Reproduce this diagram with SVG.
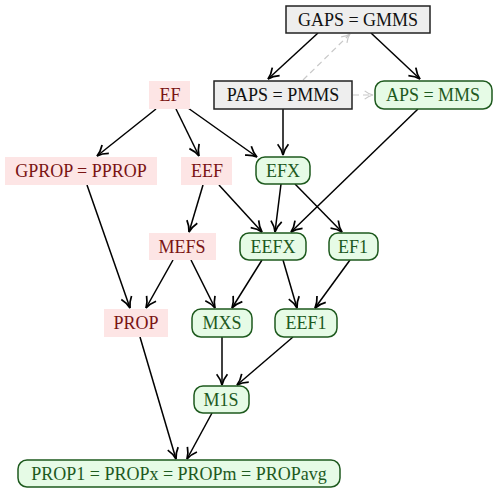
<svg xmlns="http://www.w3.org/2000/svg" width="498" height="494" viewBox="0 0 498 494">
<defs>
<marker id="ah" viewBox="0 0 12 12" refX="11" refY="6" markerWidth="13" markerHeight="13" markerUnits="userSpaceOnUse" orient="auto">
<path d="M1,1 Q6,5 11,6 Q6,7 1,11" fill="none" stroke="#000" stroke-width="1.6"/>
</marker>
<marker id="ahg" viewBox="0 0 12 12" refX="11" refY="6" markerWidth="10" markerHeight="10" markerUnits="userSpaceOnUse" orient="auto">
<path d="M1,1 Q6,5 11,6 Q6,7 1,11" fill="none" stroke="#c8c8c8" stroke-width="1.4"/>
</marker>
</defs>
<style>
text{font-size:18px;text-anchor:middle;dominant-baseline:central}
.gray rect{fill:#eeeeee;stroke:#222;stroke-width:1.5}
.gray text{fill:#111}
.pink rect{fill:#fde5e5;stroke:none}
.pink text{fill:#7a1414}
.green rect{fill:#e6fbe6;stroke:#1e5a1e;stroke-width:1.5}
.green text{fill:#1e5a1e}
.e{stroke:#000;stroke-width:1.5;fill:none;marker-end:url(#ah)}
.d{stroke:#c8c8c8;stroke-width:1.2;fill:none;stroke-dasharray:6,4;marker-end:url(#ahg)}
</style>
<g id="connectors">
<line class="d" x1="303" y1="80" x2="350" y2="34"/>
<line class="d" x1="353" y1="95" x2="373" y2="95"/>
<line class="e" x1="318" y1="33" x2="268" y2="79"/>
<line class="e" x1="371" y1="33" x2="420" y2="79"/>
<line class="e" x1="283" y1="109" x2="283" y2="155"/>
<line class="e" x1="418" y1="109" x2="291" y2="232"/>
<line class="e" x1="156" y1="109" x2="97" y2="156"/>
<line class="e" x1="176" y1="109" x2="199" y2="156"/>
<line class="e" x1="188" y1="108" x2="257" y2="157"/>
<line class="e" x1="87" y1="185" x2="130" y2="308"/>
<line class="e" x1="203" y1="185" x2="189" y2="232"/>
<line class="e" x1="219" y1="185" x2="262" y2="232"/>
<line class="e" x1="281" y1="184" x2="275" y2="232"/>
<line class="e" x1="295" y1="184" x2="342" y2="232"/>
<line class="e" x1="173" y1="260" x2="146" y2="308"/>
<line class="e" x1="191" y1="260" x2="215" y2="308"/>
<line class="e" x1="262" y1="260" x2="232" y2="308"/>
<line class="e" x1="283" y1="260" x2="297" y2="308"/>
<line class="e" x1="350" y1="260" x2="315" y2="308"/>
<line class="e" x1="140" y1="337" x2="176" y2="459"/>
<line class="e" x1="222" y1="337" x2="222" y2="385"/>
<line class="e" x1="293" y1="337" x2="237" y2="385"/>
<line class="e" x1="212" y1="413" x2="187" y2="459"/>
</g>
<g font-family="Liberation Serif, serif">
<g id="GAPS" class="gray"><rect x="286" y="6" width="144" height="27"/><text x="358" y="20">GAPS = GMMS</text></g>
<g id="PAPS" class="gray"><rect x="214" y="81" width="138" height="28"/><text x="283" y="95">PAPS = PMMS</text></g>
<g id="APS" class="green"><rect x="375" y="81" width="117" height="28" rx="9"/><text x="433" y="95">APS = MMS</text></g>
<g id="EF" class="pink"><rect x="149" y="81" width="41" height="28"/><text x="170" y="95">EF</text></g>
<g id="GPROP" class="pink"><rect x="5" y="157" width="152" height="28"/><text x="81" y="171">GPROP = PPROP</text></g>
<g id="EEF" class="pink"><rect x="181" y="157" width="51" height="28"/><text x="207" y="171">EEF</text></g>
<g id="EFX" class="green"><rect x="256" y="157" width="54" height="27" rx="9"/><text x="283" y="170.5">EFX</text></g>
<g id="MEFS" class="pink"><rect x="149" y="233" width="67" height="27"/><text x="182" y="247">MEFS</text></g>
<g id="EEFX" class="green"><rect x="240" y="233" width="66" height="27" rx="9"/><text x="273" y="247">EEFX</text></g>
<g id="EF1" class="green"><rect x="329" y="233" width="49" height="27" rx="9"/><text x="353" y="247">EF1</text></g>
<g id="PROP" class="pink"><rect x="104" y="309" width="64" height="28"/><text x="136" y="323">PROP</text></g>
<g id="MXS" class="green"><rect x="192" y="309" width="60" height="28" rx="9"/><text x="222" y="323">MXS</text></g>
<g id="EEF1" class="green"><rect x="275" y="309" width="62" height="28" rx="9"/><text x="306" y="323">EEF1</text></g>
<g id="M1S" class="green"><rect x="194" y="386" width="55" height="27" rx="9"/><text x="221" y="400">M1S</text></g>
<g id="PROP1" class="green"><rect x="18" y="460" width="322" height="27" rx="9"/><text x="179" y="474">PROP1 = PROPx = PROPm = PROPavg</text></g>
</g>
</svg>
